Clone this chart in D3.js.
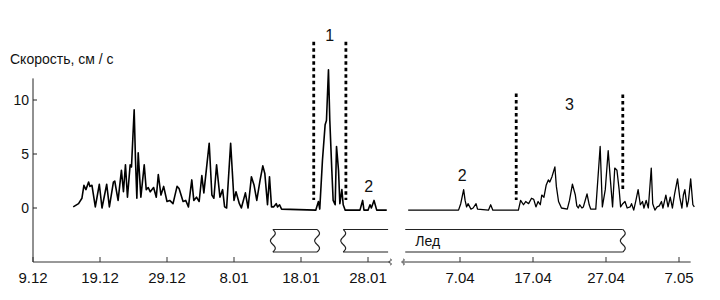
<!DOCTYPE html>
<html><head><meta charset="utf-8">
<script src="https://cdn.jsdelivr.net/npm/d3@7"></script>
<style>
body{margin:0;background:#fff}
svg{display:block}
text{font-family:"Liberation Sans",Arial,sans-serif;fill:#111}
</style>
</head><body>
<svg id="c" width="720" height="300"></svg>
<script>
// ---- data (days counted from 9 Dec) ----
const leftDays = [6.0,6.8,7.3,7.6,7.9,8.3,8.5,8.8,9.3,9.9,10.3,11.0,11.4,12.0,12.2,12.7,13.2,13.5,13.8,14.1,14.5,14.7,15.1,15.3,15.5,15.7,16.1,16.6,16.9,17.2,17.5,18.0,18.4,18.7,19.1,19.5,20.0,20.4,20.9,21.5,21.8,22.4,22.8,23.2,23.7,24.0,24.4,24.8,25.2,25.5,26.3,26.7,27.0,27.4,27.9,28.3,28.6,28.9,29.5,30.0,30.3,30.8,31.1,31.7,32.1,32.6,33.0,33.4,33.9,34.3,34.6,35.0,35.3,35.6,35.9,36.3,36.5,36.8,37.1,42.2,42.6,42.8,43.2,43.6,43.8,44.1,44.3,44.6,44.8,45.1,45.3,45.6,45.8,46.1,46.3,46.6,48.8,49.2,49.4,50.0,50.3,50.5,50.9,51.3,52.8];
const leftValues = [0.1,0.4,0.9,2.1,1.7,2.4,2.0,2.1,0.1,2.2,0,2.2,0.1,2.4,2.5,0.7,3.5,1.5,4.0,1.0,4.0,3.8,9.1,4.4,0.9,5.1,1.0,4.0,1.7,1.9,1.5,1.9,1.0,3.1,1.2,2.0,0.6,0.7,0.4,2.0,1.8,0.6,0.7,0.1,2.6,0.7,1.0,0.6,3.0,1.4,6.0,1.2,0.9,4.0,1.0,1.7,0.1,0,6.0,0.7,1.5,0.4,0,1.4,0,2.9,2.1,0.7,2.6,3.9,3.2,0.3,2.9,0.1,0.1,0.4,0.1,0.3,-0.1,-0.2,0.6,-0.1,4.4,7.7,8.1,12.8,8.1,3.5,0.7,0.3,5.7,3.5,0.4,1.7,0.3,-0.2,-0.2,0.7,-0.2,-0.2,0.3,0,0.7,-0.2,-0.2];
const rightDays = [111.9,118.8,119.1,119.5,119.7,119.9,120.1,120.5,120.8,121.2,121.4,122.9,123.2,123.5,127.0,127.3,127.7,128.0,128.4,128.8,129.1,129.4,129.7,130.0,130.2,130.5,130.8,131.1,131.3,131.6,132.0,132.2,132.5,132.7,132.9,133.7,134.0,134.4,134.8,135.0,135.2,135.4,135.7,135.9,136.4,136.7,136.9,137.6,138.2,138.5,138.9,139.3,139.6,139.9,140.2,140.5,140.8,141.0,141.3,141.6,141.9,142.3,142.5,142.8,143.1,143.4,143.7,144.0,144.2,144.5,144.8,145.2,145.4,145.7,146.0,146.3,146.6,146.8,147.2,147.5,147.8,148.1,148.4,148.8,149.1,149.4,149.6,149.8,150.1,150.3,150.6,150.9,151.1];
const rightValues = [-0.2,-0.2,0.4,1.7,0.7,0.1,0.4,-0.1,0,0.4,-0.1,-0.2,0.3,-0.2,-0.2,0.7,0.3,0.6,0.4,0.9,0.8,0.1,0.6,0.3,1.2,1.0,2.1,2.6,2.4,2.9,3.8,2.0,0.6,0.3,0,-0.1,0.7,2.2,1.2,0.2,0,0.3,0,0.1,1.3,0.3,-0.1,-0.1,5.7,0.1,1.7,5.3,2.6,0.1,3.7,3.5,1.7,0.1,0.4,0.6,0,0.1,0.4,-0.2,0.7,1.7,0.3,0.6,0,0.7,0,3.7,0.4,-0.2,0.1,0.2,0.6,0,1.2,0.1,1.0,0,1.3,2.7,1.0,0,1.2,1.7,0.1,0.7,2.7,0.3,0.1];

const yTicks = [0, 5, 10];
const leftTickDays = [0, 10, 20, 30, 40, 50];
const leftTickLabels = ["9.12", "19.12", "29.12", "8.01", "18.01", "28.01"];
const rightTickDays = [119, 129, 139, 149];
const rightTickLabels = ["7.04", "17.04", "27.04", "7.05"];
const leftAxisDays = [0, 53.3];
const rightAxisDays = [111.2, 150.6];

// period boundaries (dotted lines): day, top value, bottom value, segment
const periodDays = [41.9, 46.7, 126.7, 141.3];
const periodTops = [15.4, 15.4, 10.6, 10.5];
const periodBottoms = [0.75, 0.75, 0.75, 1.7];
const periodSide = ["L", "L", "R", "R"];

// period labels
const labelTexts = ["1", "2", "2", "3"];
const labelDays = [44.3, 50.1, 119.3, 134.0];
const labelLevels = [16.0, 2.0, 3.0, 9.6];
const labelSide = ["L", "L", "R", "R"];

// ice cover spans
const iceStart = [35.8, 46.3, 111.5];
const iceEnd = [42.4, 53.0, 141.3];
const iceWavyStart = [true, true, false];
const iceWavyEnd = [true, false, true];
const iceSide = ["L", "L", "R"];
const iceLabel = "Лед";
const yTitle = "Скорость, см / с";

// ---- scales ----
const svg = d3.select("#c");
const xL = d3.scaleLinear().domain([0, 50]).range([33, 368]);
const xR = d3.scaleLinear().domain([119, 149]).range([460, 679]);
const y = d3.scaleLinear().domain([0, 10]).range([208, 100]);
const xs = s => s === "L" ? xL : xR;

// y axis
const yAxisG = svg.append("g").attr("transform", `translate(${xL(0)},0)`);
yAxisG.append("line").attr("x1",0).attr("x2",0).attr("y1", y(12.0)).attr("y2", 262)
  .attr("stroke","#222").attr("stroke-width",1);
yAxisG.selectAll(".yt").data(yTicks).join("line")
  .attr("x1",0).attr("x2",4).attr("y1",d=>y(d)).attr("y2",d=>y(d)).attr("stroke","#222");
yAxisG.selectAll(".yl").data(yTicks).join("text")
  .attr("x",-4).attr("y",d=>y(d)).attr("dy","0.36em").attr("text-anchor","end")
  .attr("font-size",14).text(d=>d);
svg.append("text").attr("x",10).attr("y",64).attr("font-size",14).text(yTitle);

// x axes
const axisY = 262;
function drawXAxis(scale, dom, ticks, labels) {
  const g = svg.append("g");
  g.append("line").attr("x1", scale(dom[0])).attr("x2", scale(dom[1]))
    .attr("y1", axisY).attr("y2", axisY).attr("stroke","#333").attr("stroke-width",1);
  g.selectAll(".t").data(ticks).join("line")
    .attr("x1", d=>scale(d)).attr("x2", d=>scale(d)).attr("y1", axisY).attr("y2", axisY-5)
    .attr("stroke","#333");
  g.selectAll(".l").data(ticks).join("text")
    .attr("x", d=>scale(d)).attr("y", axisY+21).attr("text-anchor","middle")
    .attr("font-size",15).text((d,i)=>labels[i]);
}
drawXAxis(xL, leftAxisDays, leftTickDays, leftTickLabels);
drawXAxis(xR, rightAxisDays, rightTickDays, rightTickLabels);

// small break squiggles on the axis
function squiggle(x0, yc, h, amp) {
  const pts = d3.range(0, 1.0001, 0.05).map(t => [x0 + amp*Math.sin(t*Math.PI*3), yc - h/2 + t*h]);
  return d3.line().curve(d3.curveBasis)(pts);
}
svg.append("path").attr("d", squiggle(xL(leftAxisDays[1]), axisY, 6, 1.5)).attr("fill","none").attr("stroke","#333");
svg.append("path").attr("d", squiggle(xR(rightAxisDays[0]), axisY, 6, 1.5)).attr("fill","none").attr("stroke","#333");

// ice band
const iceTop = 229.5, iceBot = 252;
iceStart.forEach((s, i) => {
  const sc = xs(iceSide[i]);
  const x0 = sc(s), x1 = sc(iceEnd[i]);
  const g = svg.append("g").attr("fill","none").attr("stroke","#222").attr("stroke-width",1.2);
  g.append("line").attr("x1",x0).attr("x2",x1).attr("y1",iceTop).attr("y2",iceTop);
  g.append("line").attr("x1",x0).attr("x2",x1).attr("y1",iceBot).attr("y2",iceBot);
  if (iceWavyStart[i]) g.append("path").attr("d", squiggle(x0, (iceTop+iceBot)/2, iceBot-iceTop, 2.5));
  if (iceWavyEnd[i]) g.append("path").attr("d", squiggle(x1, (iceTop+iceBot)/2, iceBot-iceTop, 2.5));
});
svg.append("text").attr("x", xR(iceStart[2]) + 10).attr("y", 246).attr("font-size",14).text(iceLabel);

// series
const line = sc => d3.line().x(d=>sc(d[0])).y(d=>y(d[1]));
svg.append("path").datum(leftDays.map((d,i)=>[d,leftValues[i]]))
  .attr("d", line(xL)).attr("fill","none").attr("stroke","#000").attr("stroke-width",1.6).attr("stroke-linejoin","round");
svg.append("path").datum(rightDays.map((d,i)=>[d,rightValues[i]]))
  .attr("d", line(xR)).attr("fill","none").attr("stroke","#000").attr("stroke-width",1.3).attr("stroke-linejoin","round");

// dotted period boundaries
periodDays.forEach((d,i) => {
  const sc = xs(periodSide[i]);
  svg.append("line").attr("x1", sc(d)).attr("x2", sc(d))
    .attr("y1", y(periodTops[i])).attr("y2", y(periodBottoms[i]))
    .attr("stroke","#000").attr("stroke-width",2.8).attr("stroke-dasharray","3.5,3");
});
labelTexts.forEach((t,i) => {
  const sc = xs(labelSide[i]);
  svg.append("text").attr("x", sc(labelDays[i])).attr("y", y(labelLevels[i])).attr("dy","0.36em")
    .attr("text-anchor","middle").attr("font-size",16).text(t);
});
</script>
</body></html>
